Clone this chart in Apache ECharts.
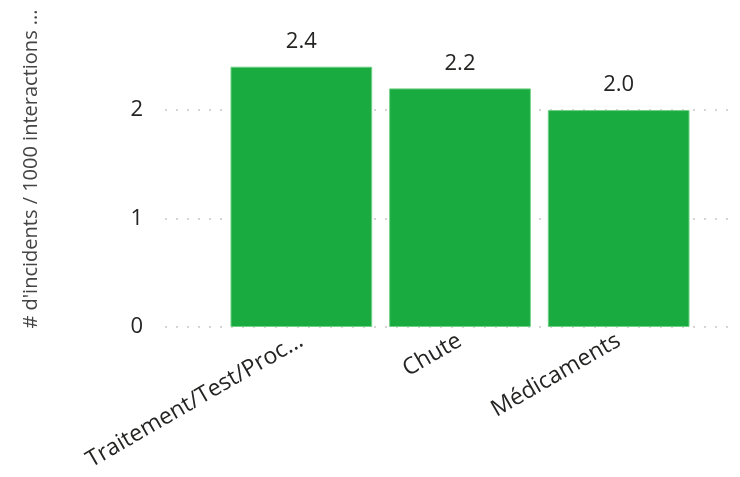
<!DOCTYPE html>
<html>
<head>
<meta charset="utf-8">
<script src="https://cdn.jsdelivr.net/npm/echarts@6/dist/echarts.min.js"></script>
<style>
  html, body { margin: 0; padding: 0; background: #fff; }
  #chart { width: 740px; height: 477px; }
</style>
</head>
<body>
<div id="chart"></div>
<script>
// Incident categories and their rates per 1000 interactions
const categories = ['Traitement/Test/Procédure', 'Chute', 'Médicaments'];
const incidentRates = [2.4, 2.2, 2.0];
const yTicks = [0, 1, 2];
const yTitle = "# d'incidents / 1000 interactions ...";

const FONT = '"Segoe UI", "Open Sans", "Noto Sans", sans-serif';
const TEXT = '#252423';
const Y_MAX = 2.6;

const chart = echarts.init(document.getElementById('chart'));

chart.setOption({
  animation: false,
  backgroundColor: '#ffffff',
  grid: [
    // bar area
    { left: 222, right: 42, top: 45, bottom: 150 },
    // wider band carrying the dotted grid lines and value labels
    { left: 165, right: 8, top: 45, bottom: 150 }
  ],
  xAxis: [
    {
      type: 'category',
      gridIndex: 0,
      data: categories,
      axisLine: { show: false },
      axisTick: { show: false },
      axisLabel: {
        rotate: 30,
        margin: 12,
        fontFamily: FONT,
        fontSize: 23,
        color: TEXT,
        formatter: v => v.length > 20 ? v.slice(0, 20) + '...' : v
      }
    },
    {
      type: 'value',
      gridIndex: 1,
      show: false
    }
  ],
  yAxis: [
    {
      type: 'value',
      gridIndex: 0,
      min: 0,
      max: Y_MAX,
      show: false
    },
    {
      type: 'value',
      gridIndex: 1,
      min: 0,
      max: Y_MAX,
      interval: 1,
      axisLine: { show: false },
      axisTick: { show: false },
      axisLabel: {
        margin: 22,
        fontFamily: FONT,
        fontSize: 22,
        color: TEXT,
        showMaxLabel: false,
        formatter: v => yTicks.includes(v) ? String(v) : ''
      },
      splitLine: {
        show: true,
        showMaxLine: false,
        lineStyle: { color: '#c8c8c8', type: [2, 9], width: 1.5 }
      }
    }
  ],
  graphic: [
    {
      type: 'text',
      x: 31,
      y: 169,
      rotation: Math.PI / 2,
      style: {
        text: yTitle,
        fontFamily: FONT,
        fontSize: 20,
        fill: '#444444',
        align: 'center',
        verticalAlign: 'middle'
      }
    }
  ],
  series: [
    {
      type: 'bar',
      xAxisIndex: 0,
      yAxisIndex: 0,
      data: incidentRates,
      barCategoryGap: '10.7%',
      itemStyle: { color: '#1aab40', borderColor: '#6fcf85', borderWidth: 1 },
      label: {
        show: true,
        position: 'top',
        distance: 14,
        fontFamily: FONT,
        fontSize: 22,
        color: TEXT,
        formatter: p => p.value.toFixed(1)
      }
    }
  ]
});
</script>
</body>
</html>
